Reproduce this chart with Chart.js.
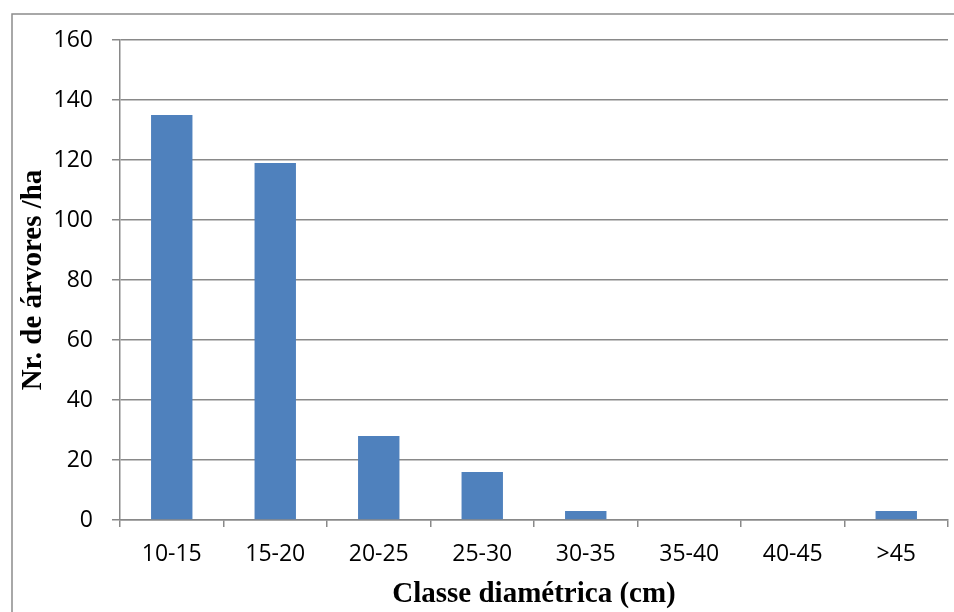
<!DOCTYPE html>
<html>
<head>
<meta charset="utf-8">
<script src="https://cdn.jsdelivr.net/npm/chart.js@4.4.1/dist/chart.umd.min.js"></script>
<style>
  html, body { margin: 0; padding: 0; background: #ffffff; }
  #wrap { width: 954px; height: 612px; position: relative; }
</style>
</head>
<body>
<div id="wrap"><canvas id="c" width="954" height="612"></canvas></div>
<script>
// Diameter classes and number of trees per hectare
const classes = ['10-15', '15-20', '20-25', '25-30', '30-35', '35-40', '40-45', '>45'];
const treesPerHa = [135, 119, 28, 16, 3, 0, 0, 3];
const yTicks = [0, 20, 40, 60, 80, 100, 120, 140, 160];

const xTitle = 'Classe diamétrica (cm)';
const yTitle = 'Nr. de árvores /ha';

const gridColor = '#898989';
const tickFont = { family: '"Open Sans", sans-serif', size: 23 };
const titleFont = { family: '"Liberation Serif", "Times New Roman", serif', size: 29, weight: 'bold' };

// Thin frame around the whole chart (left and top edges visible)
const framePlugin = {
  id: 'frame',
  beforeDraw(chart) {
    const ctx = chart.ctx;
    ctx.save();
    ctx.fillStyle = '#ffffff';
    ctx.fillRect(0, 0, chart.width, chart.height);
    ctx.strokeStyle = '#8c8c8c';
    ctx.lineWidth = 1.5;
    ctx.strokeRect(12, 14, chart.width + 10, chart.height + 10);
    ctx.restore();
  }
};

new Chart(document.getElementById('c'), {
  type: 'bar',
  data: {
    labels: classes,
    datasets: [{
      data: treesPerHa,
      backgroundColor: '#4f81bd',
      borderWidth: 0,
      barPercentage: 0.4,
      categoryPercentage: 1.0
    }]
  },
  options: {
    responsive: false,
    animation: false,
    devicePixelRatio: 1,
    layout: { padding: { left: 0, top: 40, right: 6, bottom: 0 } },
    plugins: {
      legend: { display: false },
      tooltip: { enabled: false }
    },
    scales: {
      x: {
        offset: true,
        grid: {
          display: true,
          offset: true,
          drawOnChartArea: false,
          drawTicks: true,
          tickLength: 7,
          color: gridColor,
          lineWidth: 1.5
        },
        border: { display: true, color: gridColor, width: 1.5 },
        ticks: { color: '#000000', font: tickFont, padding: 14, maxRotation: 0, autoSkip: false },
        title: { display: true, text: xTitle, color: '#000000', font: titleFont, padding: { top: 0, bottom: 0 } },
        afterFit(scale) { scale.height = 92; }
      },
      y: {
        min: 0,
        max: 160,
        afterBuildTicks(scale) { scale.ticks = yTicks.map(v => ({ value: v })); },
        grid: {
          color: gridColor,
          lineWidth: 1.5,
          drawTicks: true,
          tickLength: 8
        },
        border: { display: true, color: gridColor, width: 1.5 },
        ticks: { color: '#000000', font: tickFont, padding: 19 },
        title: { display: true, text: yTitle, color: '#000000', font: titleFont, padding: { top: 16, bottom: 0 } },
        afterFit(scale) { scale.width = 120; }
      }
    }
  },
  plugins: [framePlugin]
});
</script>
</body>
</html>
